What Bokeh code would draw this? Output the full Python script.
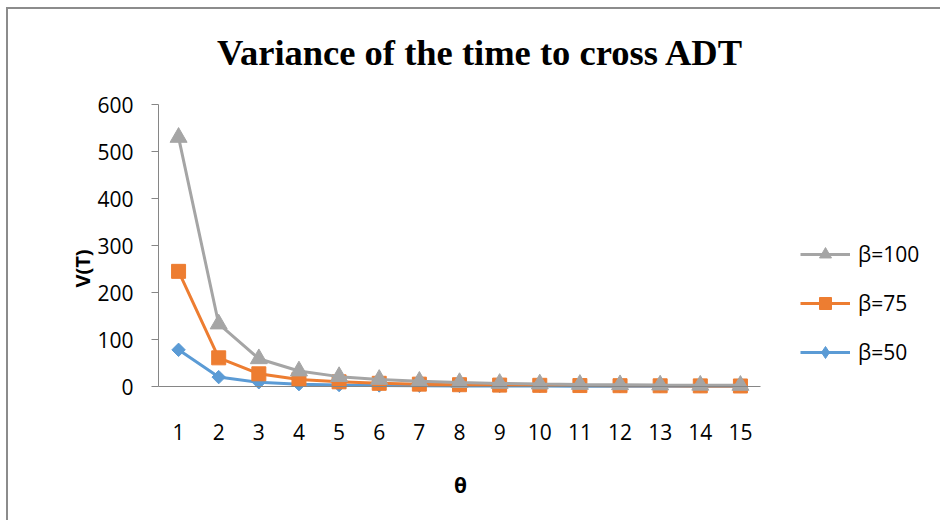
import math

from bokeh.plotting import figure
from bokeh.models import Range1d, FixedTicker, Legend, LegendItem, Label
from bokeh.embed import file_html
from bokeh.resources import INLINE

# θ values along the category axis
theta = [1, 2, 3, 4, 5, 6, 7, 8, 9, 10, 11, 12, 13, 14, 15]

# variance of the time to cross ADT for each β
v_beta100 = [530, 133, 59, 33, 21, 15, 11, 8.3, 6.5, 5.3, 4.4, 3.7, 3.1, 2.7, 2.4]
v_beta75 = [245, 61, 27, 15, 10, 6.8, 5.0, 3.8, 3.0, 2.5, 2.0, 1.7, 1.5, 1.3, 1.1]
v_beta50 = [78, 20, 9, 5, 3.1, 2.2, 1.6, 1.2, 1.0, 0.8, 0.6, 0.5, 0.5, 0.4, 0.35]

series_labels = ["β=100", "β=75", "β=50"]
y_ticks = [0, 100, 200, 300, 400, 500, 600]

GRAY = "#A5A5A5"
ORANGE = "#ED7D31"
BLUE = "#5B9BD5"
AXIS = "#868686"
TICK_FONT = "Open Sans"

# canvas size and the pixel box of the plotting area inside it
W, H = 934, 513
PLOT_L, PLOT_R, PLOT_T, PLOT_B = 150, 752, 95, 377
X_LO, X_HI = 0.5, 15.5
Y_LO, Y_HI = 0, 600
sx = (PLOT_R - PLOT_L) / (X_HI - X_LO)
sy = (PLOT_B - PLOT_T) / (Y_HI - Y_LO)


def at_px(px, py):
    """Data coordinates of a canvas pixel position."""
    return X_LO + (px - PLOT_L) / sx, Y_LO + (PLOT_B - py) / sy


# the frame spans the whole canvas so titles and legend are never clipped
x0, y_top = at_px(0, 0)
x1, y_bot = at_px(W, H)

p = figure(
    width=W, height=H,
    output_backend="svg", toolbar_location=None,
    x_range=Range1d(x0, x1), y_range=Range1d(y_bot, y_top),
    min_border=0,
)
p.styles = {
    "margin-left": "6px", "margin-top": "7px",
    "border-left": "2px solid #8c8c8c", "border-top": "2px solid #8c8c8c",
}
p.outline_line_color = None
p.background_fill_color = "white"
p.border_fill_color = "white"
p.xgrid.grid_line_color = None
p.ygrid.grid_line_color = None

# axes, pinned to the data origin of the plotting area
p.yaxis.fixed_location = X_LO
p.yaxis.bounds = (Y_LO, Y_HI)
p.yaxis.ticker = FixedTicker(ticks=y_ticks)
p.yaxis.axis_line_color = AXIS
p.yaxis.major_tick_line_color = AXIS
p.yaxis.major_tick_out = 7
p.yaxis.major_tick_in = 0
p.yaxis.minor_tick_line_color = None
p.yaxis.major_label_standoff = 18

p.xaxis.fixed_location = Y_LO
p.xaxis.bounds = (X_LO, X_HI)
p.xaxis.ticker = FixedTicker(ticks=theta)
p.xaxis.axis_line_color = AXIS
p.xaxis.major_tick_line_color = None
p.xaxis.major_tick_out = 0
p.xaxis.major_tick_in = 0
p.xaxis.minor_tick_line_color = None
p.xaxis.major_label_standoff = 37

for ax in (p.xaxis, p.yaxis):
    ax.major_label_text_font = TICK_FONT
    ax.major_label_text_font_size = "21px"
    ax.major_label_text_color = "black"

# chart title and axis titles
tx, ty = at_px(472, 43)
p.add_layout(Label(
    x=tx, y=ty, text="Variance of the time to cross ADT",
    text_font="Liberation Serif", text_font_style="bold", text_font_size="36.5px",
    text_align="center", text_baseline="alphabetic", text_color="black",
))
vx, vy = at_px(74, 259)
p.add_layout(Label(
    x=vx, y=vy, text="V(T)", angle=math.pi / 2,
    text_font=TICK_FONT, text_font_style="bold", text_font_size="20px",
    text_align="center", text_baseline="middle", text_color="black",
))
qx, qy = at_px(452, 475)
p.add_layout(Label(
    x=qx, y=qy, text="θ",
    text_font=TICK_FONT, text_font_style="bold", text_font_size="21px",
    text_align="center", text_baseline="middle", text_color="black",
))

# series, drawn so that β=100 sits on top
r50_line = p.line(theta, v_beta50, line_color=BLUE, line_width=3)
r50_mark = p.scatter(theta, v_beta50, marker="square", angle=math.pi / 4, size=9.5,
                     fill_color=BLUE, line_color=BLUE)
# diamond key for the legend (the legend does not rotate markers)
r50_key = p.scatter(theta, v_beta50, marker="diamond", size=14,
                    fill_color=BLUE, line_color=BLUE, visible=False)
r75_line = p.line(theta, v_beta75, line_color=ORANGE, line_width=3)
r75_mark = p.scatter(theta, v_beta75, marker="square", size=14,
                     fill_color=ORANGE, line_color=ORANGE)
r100_line = p.line(theta, v_beta100, line_color=GRAY, line_width=3)
r100_mark = p.scatter(theta, v_beta100, marker="triangle", size=17,
                      fill_color=GRAY, line_color=GRAY)

legend = Legend(
    items=[
        LegendItem(label=series_labels[0], renderers=[r100_line, r100_mark]),
        LegendItem(label=series_labels[1], renderers=[r75_line, r75_mark]),
        LegendItem(label=series_labels[2], renderers=[r50_line, r50_key]),
    ],
    location=(792, 155),
    orientation="vertical",
    glyph_width=50, glyph_height=30, label_height=20,
    spacing=19, padding=0, margin=0, label_standoff=8,
    border_line_color=None, background_fill_alpha=0,
    label_text_font=TICK_FONT, label_text_font_size="21px",
    label_text_color="black",
)
p.add_layout(legend)

open("out.html", "w").write(file_html(p, INLINE))
